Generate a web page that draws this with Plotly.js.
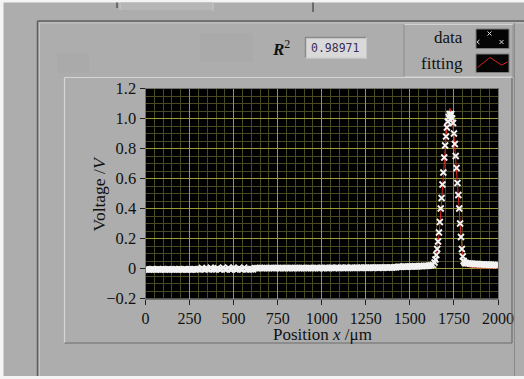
<!DOCTYPE html>
<html>
<head>
<meta charset="utf-8">
<script src="https://cdn.plot.ly/plotly-3.0.1.min.js"></script>
<style>html,body{margin:0;padding:0;background:#adadad;}#chart{width:524px;height:379px;}</style>
</head>
<body>
<div id="chart"></div>
<script>
// ---- data ----
const dataX = [
  0,10,20,30,40,50,60,70,80,90,100,110,120,130,140,150,160,170,180,190,
  200,210,220,230,240,250,260,270,280,290,300,310,320,330,340,350,360,370,380,390,
  400,410,420,430,440,450,460,470,480,490,500,510,520,530,540,550,560,570,580,590,
  600,610,620,630,640,650,660,670,680,690,700,710,720,730,740,750,760,770,780,790,
  800,810,820,830,840,850,860,870,880,890,900,910,920,930,940,950,960,970,980,990,
  1000,1010,1020,1030,1040,1050,1060,1070,1080,1090,1100,1110,1120,1130,1140,1150,1160,1170,1180,1190,
  1200,1210,1220,1230,1240,1250,1260,1270,1280,1290,1300,1310,1320,1330,1340,1350,1360,1370,1380,1390,
  1400,1410,1420,1430,1440,1450,1460,1470,1480,1490,1500,1510,1520,1530,1540,1550,1560,1570,1580,1590,
  1600,1610,1620,1630,
  1640,1645,1650,1655,1660,1665,1670,1675,1680,1685,1690,1695,1700,1705,1710,1715,1720,1725,1730,1735,
  1740,1745,1750,1755,1760,1765,1770,1775,1780,1785,1790,1795,1800,1805,1810,1815,
  1820,1830,1840,1850,1860,1870,1880,1890,1900,1910,1920,1930,1940,1950,1960,1970,1980,1990,2000
];
const dataY = [
  -0.006,-0.005,-0.007,-0.006,-0.005,-0.006,-0.007,-0.005,-0.006,-0.006,
  -0.005,-0.007,-0.006,-0.005,-0.006,-0.006,-0.007,-0.005,-0.006,-0.005,
  -0.006,-0.007,-0.005,-0.006,-0.006,-0.005,-0.007,-0.006,-0.005,-0.006,
  -0.004,-0.006,0.004,-0.005,-0.006,-0.003,-0.006,0.005,-0.005,-0.006,
  -0.005,0.003,-0.006,-0.004,0.006,-0.005,-0.006,0.004,-0.005,-0.006,
  0.005,-0.005,-0.006,0.003,-0.004,-0.006,0.006,-0.005,-0.004,-0.006,
  -0.005,-0.006,
  0.002,0.003,0.002,0.004,0.003,0.002,0.003,0.003,0.002,0.004,
  0.003,0.002,0.003,0.004,0.002,0.003,0.003,0.002,0.004,0.003,
  0.002,0.003,0.003,0.004,0.002,0.003,0.002,0.004,0.003,0.003,
  0.003,0.004,0.002,0.003,0.003,0.004,0.003,0.002,0.004,0.003,
  0.004,0.003,0.003,0.004,0.005,0.003,0.004,0.004,0.003,0.005,
  0.004,0.004,0.005,0.003,0.004,0.005,0.004,0.004,0.005,0.004,
  0.005,0.004,0.006,0.005,0.004,0.005,0.006,0.005,0.005,0.006,
  0.005,0.006,0.006,0.005,0.007,0.006,0.006,0.007,0.006,0.007,
  0.007,
  0.011,0.012,0.011,0.013,0.012,0.012,0.013,0.014,0.013,0.014,
  0.015,0.014,0.015,0.016,0.016,0.017,0.018,0.018,0.019,0.021,0.024,
  0.04,0.06,0.09,0.13,0.18,0.24,0.31,0.40,0.47,0.56,0.64,0.74,0.82,0.88,0.94,0.98,1.01,1.03,1.02,1.03,
  1.00,0.97,0.90,0.83,0.75,0.67,0.57,0.49,0.40,0.30,0.21,0.13,0.08,0.05,0.04,0.036,
  0.035,0.034,0.033,0.032,0.031,0.030,0.030,0.029,0.028,0.028,0.027,0.026,0.026,0.025,0.025,0.024,0.024,0.023,0.023
];
const fitX = [0,400,800,1200,1400,1500,1560,1600,1620,1635,1645,1652,1658,1665,1672,1680,1688,1695,1703,1710,
  1716,1722,1727,1732,1738,1744,1750,1757,1764,1771,1778,1785,1792,1798,1804,1812,1822,1840,1870,1920,2000];
const fitY = [0.004,0.004,0.004,0.004,0.005,0.006,0.009,0.014,0.02,0.035,0.06,0.10,0.15,0.22,0.32,0.45,0.60,0.75,0.87,0.95,
  1.01,1.05,1.068,1.05,1.01,0.96,0.89,0.79,0.68,0.56,0.43,0.30,0.18,0.10,0.055,0.03,0.016,0.009,0.005,0.003,0.002];
const yTickVals = [-0.2,0,0.2,0.4,0.6,0.8,1.0,1.2];
const yTickText = ["\u22120.2","0","0.2","0.4","0.6","0.8","1.0","1.2"];
const xTickVals = [0,250,500,750,1000,1250,1500,1750,2000];
const xTickText = ["0","250","500","750","1000","1250","1500","1750","2000"];
const seriesNames = ["data","fitting"];
const xTitle = 'Position <i>x</i> /\u03bcm';
const yTitle = 'Voltage /<i>V</i>';
const r2Label = '<b><i>R</i></b><sup>2</sup>';
const r2Text = "0.98971";

// ---- helpers for paper positions (pixels of the 524x379 page) ----
const W = 524, H = 379;
const PX = v => v / W;
const PY = v => 1 - v / H;
function line(x0,y0,x1,y1,color,w){return {type:'line',xref:'paper',yref:'paper',x0:PX(x0),y0:PY(y0),x1:PX(x1),y1:PY(y1),line:{color:color,width:w||1}};}
function rect(x0,y0,x1,y1,fill,lc,lw){return {type:'rect',xref:'paper',yref:'paper',x0:PX(x0),y0:PY(y0),x1:PX(x1),y1:PY(y1),fillcolor:fill,line:{color:lc||'rgba(0,0,0,0)',width:lw||0}};}

const serif = '"Liberation Serif", "DejaVu Serif", serif';
const ink = '#111111';

const traces = [
  {x: fitX, y: fitY, name: seriesNames[1], mode: 'lines', line: {color: '#e02828', width: 1}, hoverinfo:'skip'},
  {x: dataX, y: dataY, name: seriesNames[0], mode: 'markers',
   marker: {symbol: 'x-thin', size: 6, color: '#f2f2f2', line: {color: '#f2f2f2', width: 1.8}}, hoverinfo:'skip'}
];

const shapes = [
  // outer white border strips
  rect(0,0,524,2.5,'#f4f4f4'),
  rect(0,0,3.5,379,'#f4f4f4'),
  rect(0,376,524,379,'#f4f4f4'),
  // top tab strip
  rect(120,2.5,213,10,'#b6b6b6'),
  line(117,2.5,117,8,'#555',1.5),
  line(120,2.5,120,10,'#c8c8c8',1),
  line(213,2.5,213,11,'#c8c8c8',1),
  line(313,2.5,313,12,'#555',1.5),
  // panel border
  line(37.5,21,524,21,'#5e5e5e',1.5),
  line(37.5,21,37.5,376,'#5e5e5e',1.5),
  line(39.5,23,524,23,'#c4c4c4',1),
  line(39.5,23,39.5,376,'#c4c4c4',1),
  // faint ghost boxes
  rect(57,53,89,73,'#aaaaaa'),
  rect(200,33,253,62,'#aaaaaa'),
  // chart frame
  line(64.5,77.5,512,77.5,'#d6d6d6',1.2),
  line(64.5,77.5,64.5,343,'#d6d6d6',1.2),
  line(64.5,343,512,343,'#6c6c6c',1.2),
  line(512,77.5,512,343,'#6c6c6c',1.2),
  // right panel edge
  line(514.5,23,514.5,376,'#8a8a8a',1),
  // legend box
  line(404,24.5,513,24.5,'#d2d2d2',1),
  line(404,24.5,404,77,'#8c8c8c',1),
  line(404,77,513,77,'#d2d2d2',1),
  line(513,24.5,513,77,'#8c8c8c',1),
  rect(476,29,509,48.5,'#050505','#7a7a7a',1),
  rect(476,54,509,72.5,'#050505','#7a7a7a',1),
  {type:'path',xref:'paper',yref:'paper',
   path:'M '+PX(477.5)+' '+PY(67.5)+' L '+PX(490)+' '+PY(57.5)+' L '+PX(501.5)+' '+PY(65)+' L '+PX(507.5)+' '+PY(62),
   line:{color:'#d42424',width:1}},
  // legend data glyph: small crosses
  line(487.5,31.5,491.5,35.5,'#dddddd',1), line(487.5,35.5,491.5,31.5,'#dddddd',1),
  line(499.5,40,503.5,44,'#dddddd',1), line(499.5,44,503.5,40,'#dddddd',1),
  line(477,42,479.5,40,'#dddddd',1), line(477,42,479.5,44,'#dddddd',1),
  // R^2 value box
  rect(305,37,367,58.5,'#d9d9d9'),
  line(305,37.5,367,37.5,'#8a8a8a',1.5),
  line(305.5,37,305.5,58.5,'#8a8a8a',1.5),
  line(305,58,367,58,'#c6c6c6',1),
  line(366.5,37,366.5,58.5,'#c6c6c6',1)
];

const annotations = [
  {xref:'paper',yref:'paper',x:PX(465),y:PY(37),xanchor:'right',yanchor:'middle',showarrow:false,
   text:seriesNames[0],font:{family:serif,size:17,color:ink}},
  {xref:'paper',yref:'paper',x:PX(465),y:PY(63),xanchor:'right',yanchor:'middle',showarrow:false,
   text:seriesNames[1],font:{family:serif,size:17,color:ink}},
  {xref:'paper',yref:'paper',x:PX(292),y:PY(48),xanchor:'right',yanchor:'middle',showarrow:false,
   text:r2Label,font:{family:serif,size:17,color:ink}},
  {xref:'paper',yref:'paper',x:PX(308.5),y:PY(48.5),xanchor:'left',yanchor:'middle',showarrow:false,
   text:r2Text,font:{family:'"DejaVu Sans Mono", monospace',size:11.5,color:'#3a2f55'}},
  // axis titles
  {xref:'paper',yref:'paper',x:PX(322),y:PY(334),xanchor:'center',yanchor:'middle',showarrow:false,
   text:xTitle,font:{family:serif,size:17,color:ink}},
  {xref:'paper',yref:'paper',x:PX(98.5),y:PY(194),xanchor:'center',yanchor:'middle',showarrow:false,textangle:-90,
   text:yTitle,font:{family:serif,size:17.5,color:ink}}
];

const layout = {
  width: W, height: H,
  margin: {l:0, r:0, t:0, b:0, pad:0},
  paper_bgcolor: '#adadad',
  plot_bgcolor: '#000000',
  showlegend: false,
  font: {family: serif, color: ink},
  xaxis: {
    domain: [PX(145.5), PX(498)],
    range: [0, 2000],
    tickmode: 'array', tickvals: xTickVals, ticktext: xTickText,
    ticks: 'outside', ticklen: 5, tickwidth: 1, tickcolor: '#222',
    ticklabelstandoff: 0,
    showgrid: true, gridcolor: '#9a9a38', gridwidth: 1,
    minor: {dtick: 50, tick0: 0, showgrid: true, gridcolor: '#4a4a22', gridwidth: 1, ticks: ''},
    zeroline: false,
    showline: true, linecolor: '#707070', linewidth: 1, mirror: true,
    tickfont: {family: serif, size: 16, color: ink},
    automargin: false, fixedrange: true
  },
  yaxis: {
    domain: [PY(298.5), PY(88.5)],
    range: [-0.2, 1.2],
    tickmode: 'array', tickvals: yTickVals, ticktext: yTickText,
    ticks: 'outside', ticklen: 5, tickwidth: 1, tickcolor: '#222',
    showgrid: true, gridcolor: '#9a9a38', gridwidth: 1,
    minor: {dtick: 0.05, tick0: 0, showgrid: true, gridcolor: '#4a4a22', gridwidth: 1, ticks: ''},
    zeroline: false,
    showline: true, linecolor: '#707070', linewidth: 1, mirror: true,
    tickfont: {family: serif, size: 16.5, color: ink},
    automargin: false, fixedrange: true
  },
  shapes: shapes,
  annotations: annotations
};

Plotly.newPlot('chart', traces, layout, {staticPlot: true, displayModeBar: false});
</script>
</body>
</html>
